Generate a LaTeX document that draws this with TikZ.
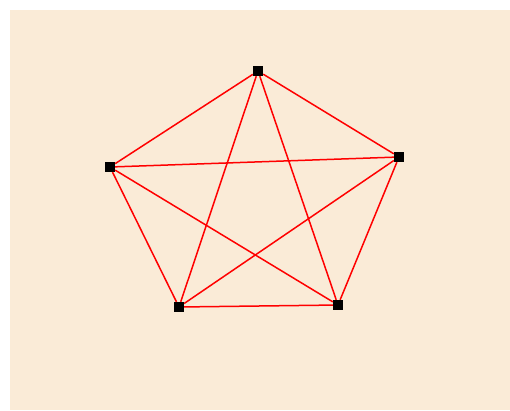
\documentclass[tikz,border=0pt]{standalone}
\usepackage{xcolor}
\definecolor{bgbeige}{HTML}{FAEBD7}

\begin{document}
\begin{tikzpicture}[
    x=1pt, y=-1pt,
    vertex/.style={
        rectangle,
        fill=black,
        minimum size=10pt,
        inner sep=0pt
    },
    edge/.style={
        draw,
        red,
        line width=1.5pt
    }
]

    % --- Canvas ---
    \useasboundingbox (0,0) rectangle (510,410);
    \fill[bgbeige] (10,10) rectangle (510,410);

    % --- Vertices ---
    \node [vertex] (top) at (258,71) {};
    \node [vertex] (right) at (399,157) {};
    \node [vertex] (lowright) at (338,305) {};
    \node [vertex] (lowleft) at (179,307) {};
    \node [vertex] (left) at (110,167) {};

    % --- Edges of the complete graph ---
    \foreach \a/\b in {top/right, top/lowright, top/lowleft, top/left,
                       right/lowright, right/lowleft, right/left,
                       lowright/lowleft, lowright/left, lowleft/left}
        \path [edge] (\a) -- (\b);

\end{tikzpicture}
\end{document}
